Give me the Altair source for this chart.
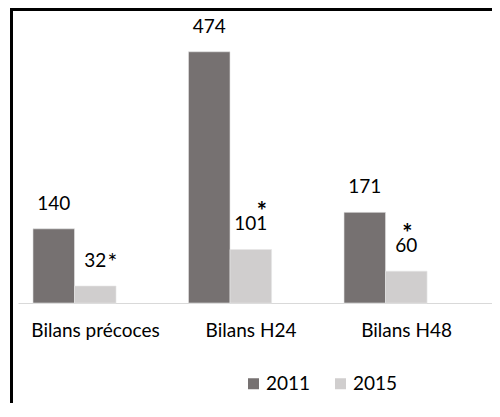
import altair as alt
import pandas as pd

categories = ["Bilans précoces", "Bilans H24", "Bilans H48"]
years = ["2011", "2015"]
values_2011 = [140, 474, 171]
values_2015 = [32, 101, 60]
stars_2015 = ["*", "*", "*"]

rows = []
for c, a, b in zip(categories, values_2011, values_2015):
    rows.append({"cat": c, "year": "2011", "value": a})
    rows.append({"cat": c, "year": "2015", "value": b})
df = pd.DataFrame(rows)

star_df = pd.DataFrame({"cat": categories, "year": ["2015"] * 3,
                        "value": values_2015, "star": stars_2015})

FONT = "Lato"
xscale = alt.Scale(domain=categories, paddingInner=0.466, paddingOuter=0.257, align=0.1875)
yscale = alt.Scale(domain=[0, 500], nice=False)
xoff = alt.XOffset("year:N", scale=alt.Scale(domain=years))

x_enc = alt.X("cat:N", scale=xscale, sort=categories, title=None,
              axis=alt.Axis(labelAngle=0, ticks=False, domainColor="#d9d9d9",
                            domainWidth=1, labelFont=FONT, labelFontSize=19,
                            labelColor="#000000", labelPadding=18, labelOffset=21))

bars = alt.Chart(df).mark_bar(stroke="#e6e6e6", strokeWidth=0.6).encode(
    x=x_enc,
    xOffset=xoff,
    y=alt.Y("value:Q", scale=yscale, axis=None),
    color=alt.Color("year:N", scale=alt.Scale(domain=years, range=["#767171", "#d0cece"]),
                    legend=alt.Legend(title=None, orient="none", legendX=226, legendY=336,
                                      direction="horizontal", symbolType="square",
                                      symbolSize=121, symbolStrokeWidth=0, labelOffset=3,
                                      columnPadding=20, labelFont=FONT, labelFontSize=19,
                                      labelColor="#000000", padding=0)),
)

labels = alt.Chart(df).mark_text(font=FONT, fontSize=19, color="#000000", dy=-19,
                                 baseline="alphabetic").encode(
    x=alt.X("cat:N", scale=xscale, sort=categories),
    xOffset=xoff,
    y=alt.Y("value:Q", scale=yscale),
    text="value:Q",
)

star_style = {"Bilans précoces": (17, -16, "normal", 23),
              "Bilans H24": (11, -29, "bold", 24),
              "Bilans H48": (1, -29, "bold", 24)}
star_layers = []
for c in categories:
    dx, dy, fw, fs = star_style[c]
    star_layers.append(
        alt.Chart(star_df).transform_filter(alt.datum.cat == c).mark_text(
            font=FONT, fontSize=fs, fontWeight=fw, color="#000000", dx=dx, dy=dy,
            baseline="alphabetic").encode(
            x=alt.X("cat:N", scale=xscale, sort=categories),
            xOffset=xoff,
            y=alt.Y("value:Q", scale=yscale),
            text="star:N",
        )
    )

frame_df = pd.DataFrame({"k": [0]})
left_border = alt.Chart(frame_df).mark_rule(color="#000000", strokeWidth=3).encode(
    x=alt.value(-6.5), y=alt.value(-30), y2=alt.value(371))
top_border = alt.Chart(frame_df).mark_rule(color="#000000", strokeWidth=3).encode(
    x=alt.value(-8), x2=alt.value(474), y=alt.value(-28.5))

chart = alt.layer(bars, labels, *star_layers, left_border, top_border).properties(
    width=474, height=265,
    padding={"left": 10, "top": 30, "right": 0, "bottom": 100},
    autosize=alt.AutoSizeParams(type="none"),
    background="#ffffff",
).configure_view(stroke=None)

chart.save("out.html", embed_options={"renderer": "svg", "actions": False})
